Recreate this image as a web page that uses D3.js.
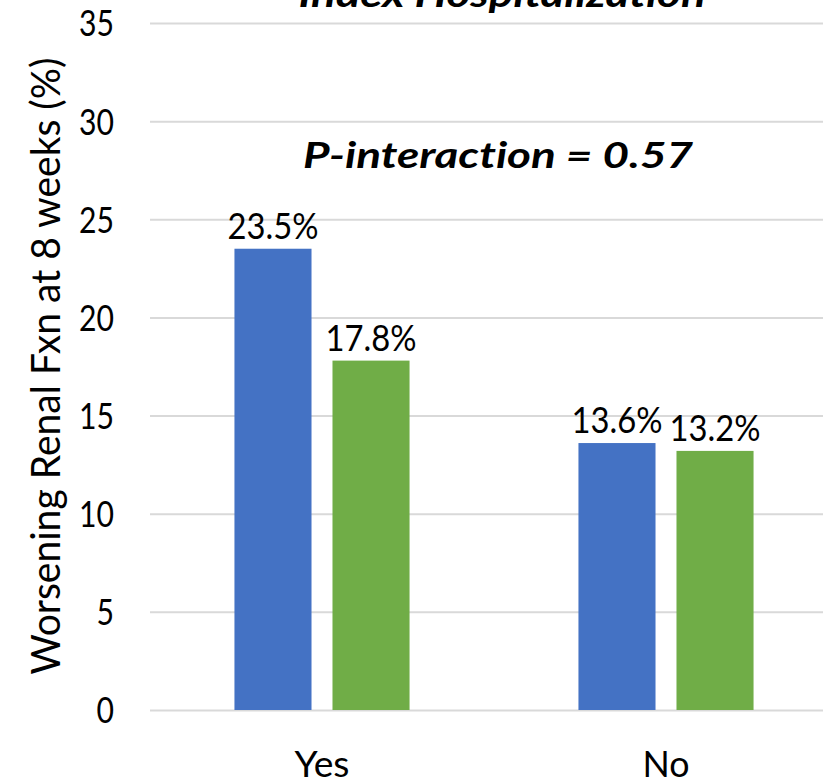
<!DOCTYPE html>
<html>
<head>
<meta charset="utf-8">
<script src="https://cdn.jsdelivr.net/npm/d3@7"></script>
<style>
  html, body { margin: 0; padding: 0; background: #ffffff; }
  svg { display: block; }
  text {
    font-family: Lato, "Open Sans", sans-serif;
    fill: #000;
    font-variant-ligatures: none;
    font-feature-settings: "liga" 0, "clig" 0;
  }
</style>
</head>
<body>
<svg id="chart" width="823" height="784"></svg>
<script>
// Worsening renal function at 8 weeks, by subgroup
const categories = ["Yes", "No"];
const seriesNames = ["Arm A", "Arm B"];
const seriesA = [23.5, 13.6];
const seriesB = [17.8, 13.2];
const yTicks = [0, 5, 10, 15, 20, 25, 30, 35];
const titleText = "Index Hospitalization";
const subtitleText = "P-interaction = 0.57";
const yAxisTitle = "Worsening Renal Fxn at 8 weeks (%)";

const colors = { "Arm A": "#4472C4", "Arm B": "#70AD47" };

const rows = categories.map((c, i) => ({
  category: c,
  values: [
    { series: seriesNames[0], value: seriesA[i] },
    { series: seriesNames[1], value: seriesB[i] }
  ]
}));

const svg = d3.select("#chart");

const plot = { left: 150, right: 838, top: 23, bottom: 710 };

const y = d3.scaleLinear().domain([0, 35]).range([plot.bottom, plot.top]);

const x0 = d3.scaleBand()
  .domain(categories)
  .range([plot.left, plot.right])
  .paddingInner(0.491)
  .paddingOuter(0.2455);

const x1 = d3.scaleBand()
  .domain(seriesNames)
  .range([0, x0.bandwidth()])
  .paddingInner(0.214);

// horizontal gridlines
const grid = d3.axisLeft(y)
  .tickValues(yTicks)
  .tickSize(-(plot.right - plot.left))
  .tickFormat("");

svg.append("g")
  .attr("transform", `translate(${plot.left},0)`)
  .call(grid)
  .call(g => g.select(".domain").remove())
  .call(g => g.selectAll(".tick line")
    .attr("stroke", "#d9d9d9")
    .attr("stroke-width", 2));

// fit a text to a fixed width per character
function fitWidth(sel, perChar) {
  sel.each(function () {
    const n = this.textContent.length;
    d3.select(this)
      .attr("textLength", n * perChar)
      .attr("lengthAdjust", "spacingAndGlyphs");
  });
}

// y tick labels
const yAxis = d3.axisLeft(y).tickValues(yTicks).tickSize(0).tickPadding(0);
svg.append("g")
  .attr("transform", "translate(114,0)")
  .call(yAxis)
  .call(g => g.select(".domain").remove())
  .call(g => g.selectAll(".tick text")
    .attr("font-family", "Lato, 'Open Sans', sans-serif")
    .attr("font-size", 36)
    .attr("fill", "#000")
    .attr("dy", "0.36em")
    .call(fitWidth, 17.5));

// bars
const groups = svg.append("g")
  .selectAll("g")
  .data(rows)
  .join("g")
  .attr("transform", d => `translate(${x0(d.category)},0)`);

groups.selectAll("rect")
  .data(d => d.values)
  .join("rect")
  .attr("x", d => x1(d.series))
  .attr("width", x1.bandwidth())
  .attr("y", d => y(d.value))
  .attr("height", d => y(0) - y(d.value))
  .attr("fill", d => colors[d.series]);

// value labels
groups.selectAll("text")
  .data(d => d.values)
  .join("text")
  .attr("x", d => x1(d.series) + x1.bandwidth() / 2)
  .attr("y", d => y(d.value) - 10)
  .attr("text-anchor", "middle")
  .attr("font-size", 36)
  .text(d => d.value.toFixed(1) + "%")
  .attr("textLength", 91)
  .attr("lengthAdjust", "spacingAndGlyphs");

// category labels
const catWidths = { "Yes": 55, "No": 47 };
svg.append("g")
  .selectAll("text")
  .data(categories)
  .join("text")
  .attr("x", d => x0(d) + x0.bandwidth() / 2)
  .attr("y", 777)
  .attr("text-anchor", "middle")
  .attr("font-size", 36)
  .text(d => d)
  .attr("textLength", d => catWidths[d])
  .attr("lengthAdjust", "spacingAndGlyphs");

// y axis title
svg.append("text")
  .attr("transform", "translate(60,366) rotate(-90)")
  .attr("text-anchor", "middle")
  .attr("font-size", 40)
  .attr("textLength", 617)
  .attr("lengthAdjust", "spacingAndGlyphs")
  .text(yAxisTitle);

// chart title (top)
svg.append("text")
  .attr("x", 502)
  .attr("y", 7)
  .attr("text-anchor", "middle")
  .attr("font-size", 37)
  .attr("font-weight", "bold")
  .attr("font-style", "italic")
  .attr("textLength", 407)
  .attr("lengthAdjust", "spacingAndGlyphs")
  .text(titleText);

// interaction p-value
svg.append("text")
  .attr("x", 498)
  .attr("y", 168)
  .attr("text-anchor", "middle")
  .attr("font-size", 37)
  .attr("font-weight", "bold")
  .attr("font-style", "italic")
  .attr("textLength", 390)
  .attr("lengthAdjust", "spacingAndGlyphs")
  .text(subtitleText);
</script>
</body>
</html>
